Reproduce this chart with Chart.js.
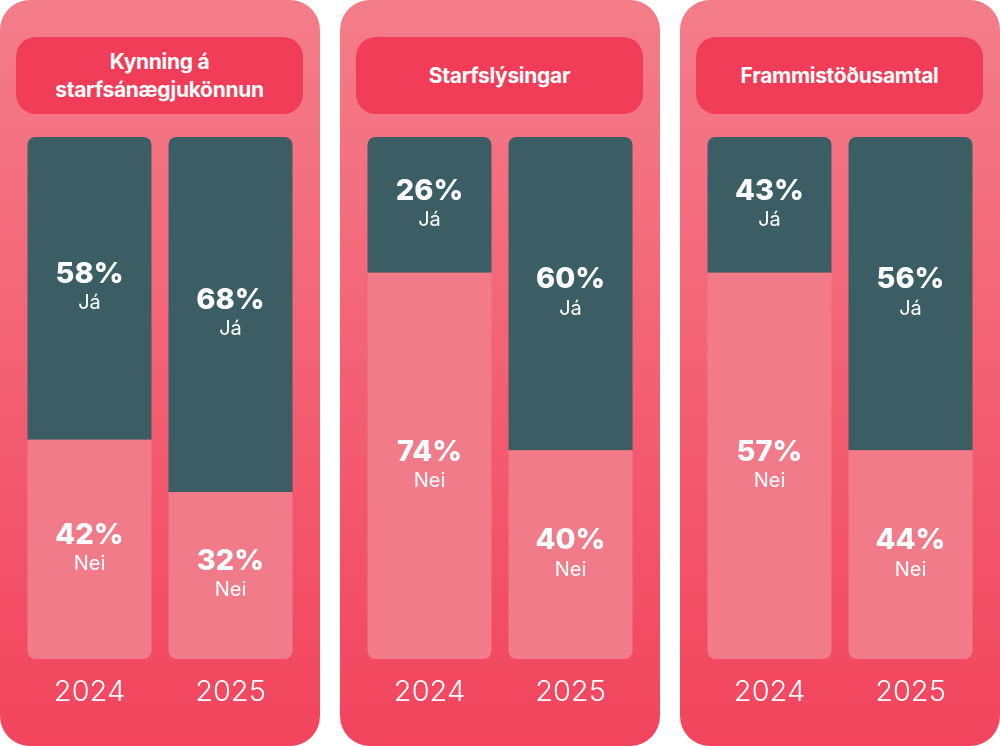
<!DOCTYPE html>
<html><head><meta charset="utf-8">
<script src="https://cdn.jsdelivr.net/npm/chart.js@4"></script>
<style>
body{margin:0;width:1000px;height:746px;background:#fff;position:relative;overflow:hidden;font-family:Inter,"Open Sans",sans-serif}
.panel{position:absolute;top:0;width:320px;height:746px;border-radius:30px;background:linear-gradient(#f47d8a,#f2445d)}
.title{position:absolute;left:16px;top:37px;width:287px;height:77px;border-radius:20px;background:#f23d58;color:#fff;font-weight:700;font-size:21px;line-height:28px;display:flex;align-items:center;justify-content:center;text-align:center;letter-spacing:-0.3px}
canvas{position:absolute}
</style></head><body>
<script>
const panelTitles=["Kynning á\nstarfsánægjukönnun","Starfslýsingar","Frammistöðusamtal"];
const years=["2024","2025"];
// printed percentages
const jaValues=[[58,68],[26,60],[43,56]];
const neiValues=[[42,32],[74,40],[57,44]];
// segment sizes as drawn in the picture (third panel's bars are drawn like the second)
const jaDrawn=[[58,68],[26,60],[26,60]];
const neiDrawn=[[42,32],[74,40],[74,40]];
const jaLabel="Já", neiLabel="Nei";
const dark="#3b5e64", light="#f27b89";

const labelPlugin={id:"lbl",afterDatasetsDraw(c){
  const ctx=c.ctx;ctx.save();ctx.fillStyle="#fff";ctx.textAlign="center";
  c.data.datasets.forEach((ds,di)=>{
    c.getDatasetMeta(di).data.forEach((bar,i)=>{
      const mid=(bar.y+bar.base)/2;
      ctx.font="800 29px Inter";ctx.textBaseline="middle";
      ctx.fillText(ds.printed[i]+"%",bar.x,mid-14);
      ctx.font="400 20px Inter";
      ctx.fillText(ds.label,bar.x,mid+15);
    });
  });
  ctx.font="300 29px Inter";ctx.textBaseline="middle";
  c.data.labels.forEach((l,i)=>ctx.fillText(l,c.scales.x.getPixelForValue(i),692-137));
  ctx.restore();}};

panelTitles.forEach((t,p)=>{
  const pl=document.createElement("div");pl.className="panel";pl.style.left=(p*340)+"px";
  const ti=document.createElement("div");ti.className="title";ti.innerText=t;pl.appendChild(ti);
  document.body.appendChild(pl);
  const cv=document.createElement("canvas");
  cv.style.left=(p*340+18.5)+"px";cv.style.top="137px";cv.style.width="282px";cv.style.height="600px";
  document.body.appendChild(cv);
  new Chart(cv,{type:"bar",
    data:{labels:years,datasets:[
      {label:neiLabel,data:neiDrawn[p],printed:neiValues[p],backgroundColor:light,borderRadius:{bottomLeft:8,bottomRight:8,topLeft:0,topRight:0},borderSkipped:false},
      {label:jaLabel,data:jaDrawn[p],printed:jaValues[p],backgroundColor:dark,borderRadius:{topLeft:8,topRight:8,bottomLeft:0,bottomRight:0},borderSkipped:false}]},
    options:{responsive:false,animation:false,devicePixelRatio:1,
      layout:{padding:{top:0,bottom:600-522,left:0,right:0}},
      plugins:{legend:{display:false},tooltip:{enabled:false}},
      scales:{x:{stacked:true,display:false,offset:true},y:{stacked:true,display:false,min:0,max:100}},
      datasets:{bar:{barPercentage:124/141,categoryPercentage:1}}},
    plugins:[labelPlugin]});
});
</script>
</body></html>
